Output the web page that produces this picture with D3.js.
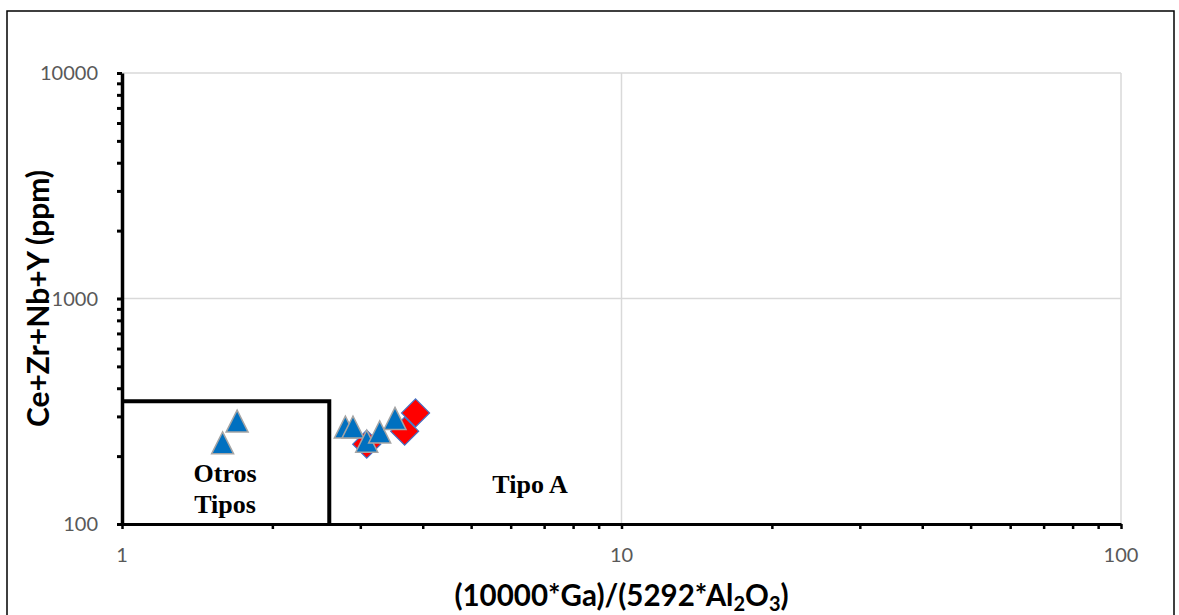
<!DOCTYPE html>
<html>
<head>
<meta charset="utf-8">
<script src="https://cdn.jsdelivr.net/npm/d3@7"></script>
<style>
  html, body { margin: 0; padding: 0; background: #fff; }
  svg { display: block; }
</style>
</head>
<body>
<svg id="chart" width="1179" height="615"></svg>
<script>
// ---- Data ----
const triangleX = [1.59, 1.70, 2.80, 2.90, 3.09, 3.28, 3.52];
const triangleY = [229, 286, 269, 269, 233, 256, 294];
const diamondX = [3.09, 3.68, 3.87];
const diamondY = [226, 258, 311];
const xTickValues = [1, 10, 100];
const yTickValues = [100, 1000, 10000];
const boundaryX = [1, 2.6, 2.6];
const boundaryY = [350, 350, 100];
const fieldLabels = ["Otros", "Tipos", "Tipo A"];

// ---- Layout ----
const svg = d3.select("#chart");
const mLeft = 122, mRight = 1121, mTop = 73, mBottom = 524;

const x = d3.scaleLog().domain([1, 100]).range([mLeft, mRight]);
const y = d3.scaleLog().domain([100, 10000]).range([mBottom, mTop]);

// chart border
svg.append("rect")
  .attr("x", 7).attr("y", 11).attr("width", 1167).attr("height", 620)
  .attr("fill", "none").attr("stroke", "#000").attr("stroke-width", 1.5);

// gridlines
const grid = svg.append("g");
grid.selectAll("line.v").data(xTickValues.slice(1)).enter().append("line")
  .attr("x1", d => x(d)).attr("x2", d => x(d))
  .attr("y1", mTop).attr("y2", mBottom)
  .attr("stroke", "#d9d9d9").attr("stroke-width", 1.5);
grid.selectAll("line.h").data(yTickValues.slice(1)).enter().append("line")
  .attr("y1", d => y(d)).attr("y2", d => y(d))
  .attr("x1", mLeft).attr("x2", mRight)
  .attr("stroke", "#d9d9d9").attr("stroke-width", 1.5);

// minor tick values (log)
const xMinor = x.ticks(20).filter(v => v >= 1 && v <= 100);
const yMinor = y.ticks(20).filter(v => v >= 100 && v <= 10000);

// x axis
const xAxis = d3.axisBottom(x).tickValues(xMinor).tickFormat("").tickSize(5).tickSizeOuter(0);
const gx = svg.append("g").attr("transform", `translate(0,${mBottom})`).call(xAxis);
gx.select(".domain").attr("stroke", "#000").attr("stroke-width", 3);
gx.selectAll(".tick line").attr("stroke", "#000").attr("stroke-width", 2.5);

svg.append("g").selectAll("text").data(xTickValues).enter().append("text")
  .attr("x", d => x(d)).attr("y", mBottom + 38)
  .attr("text-anchor", "middle")
  .attr("font-family", "Lato, 'Open Sans', sans-serif").attr("font-size", 20)
  .attr("fill", "#595959")
  .text(d => d3.format("d")(d));

// y axis
const yAxis = d3.axisLeft(y).tickValues(yMinor).tickFormat("").tickSize(5).tickSizeOuter(0);
const gy = svg.append("g").attr("transform", `translate(${mLeft},0)`).call(yAxis);
gy.select(".domain").attr("stroke", "#000").attr("stroke-width", 3.5);
gy.selectAll(".tick line").attr("stroke", "#000").attr("stroke-width", 3);

svg.append("g").selectAll("text").data(yTickValues).enter().append("text")
  .attr("x", mLeft - 24).attr("y", d => y(d) + 7)
  .attr("text-anchor", "end")
  .attr("font-family", "Lato, 'Open Sans', sans-serif").attr("font-size", 20)
  .attr("fill", "#595959")
  .text(d => d3.format("d")(d));

// axis titles
svg.append("text")
  .attr("transform", `translate(49,${(mTop + mBottom) / 2}) rotate(-90)`)
  .attr("text-anchor", "middle")
  .attr("font-family", "Lato, 'Open Sans', sans-serif").attr("font-size", 30).attr("font-weight", "bold")
  .attr("fill", "#000")
  .text("Ce+Zr+Nb+Y (ppm)");

const xt = svg.append("text")
  .attr("x", (mLeft + mRight) / 2).attr("y", 606)
  .attr("text-anchor", "middle")
  .attr("font-family", "Lato, 'Open Sans', sans-serif").attr("font-size", 29.5).attr("font-weight", "bold")
  .attr("fill", "#000");
xt.append("tspan").text("(10000*Ga)/(5292*Al");
xt.append("tspan").attr("font-size", 20).attr("dy", 5).text("2");
xt.append("tspan").attr("dy", -5).text("O");
xt.append("tspan").attr("font-size", 20).attr("dy", 5).text("3");
xt.append("tspan").attr("dy", -5).text(")");

// boundary lines
const line = d3.line().x(d => x(d[0])).y(d => y(d[1]));
svg.append("path")
  .datum(boundaryX.map((v, i) => [v, boundaryY[i]]))
  .attr("d", line)
  .attr("fill", "none").attr("stroke", "#000").attr("stroke-width", 4);

// field labels
function lab(t, px, py) {
  svg.append("text").attr("x", px).attr("y", py).attr("text-anchor", "middle").attr("fill", "#000")
    .attr("font-family", "'Liberation Serif', 'Times New Roman', serif")
    .attr("font-size", 26).attr("font-weight", "bold")
    .text(t);
}
lab(fieldLabels[0], x(1.608), y(153));
lab(fieldLabels[1], x(1.608), y(112));
lab(fieldLabels[2], x(6.56), y(137));

// markers
const pts = svg.append("g");
const diamonds = diamondX.map((v, i) => [v, diamondY[i]]);
const triangles = triangleX.map((v, i) => [v, triangleY[i]]);

const dsz = 14;
pts.selectAll("path.d").data(diamonds).enter().append("path")
  .attr("d", d => {
    const cx = x(d[0]), cy = y(d[1]);
    return `M${cx},${cy - dsz}L${cx + dsz},${cy}L${cx},${cy + dsz}L${cx - dsz},${cy}Z`;
  })
  .attr("fill", "#ff0000").attr("stroke", "#4472c4").attr("stroke-width", 1.2);

const th = 22, tw = 11;
pts.selectAll("path.t").data(triangles).enter().append("path")
  .attr("d", d => {
    const cx = x(d[0]), cy = y(d[1]);
    return `M${cx},${cy - th / 2}L${cx + tw},${cy + th / 2}L${cx - tw},${cy + th / 2}Z`;
  })
  .attr("fill", "#0070c0").attr("stroke", "#a5a5a5").attr("stroke-width", 1.5);
</script>
</body>
</html>
